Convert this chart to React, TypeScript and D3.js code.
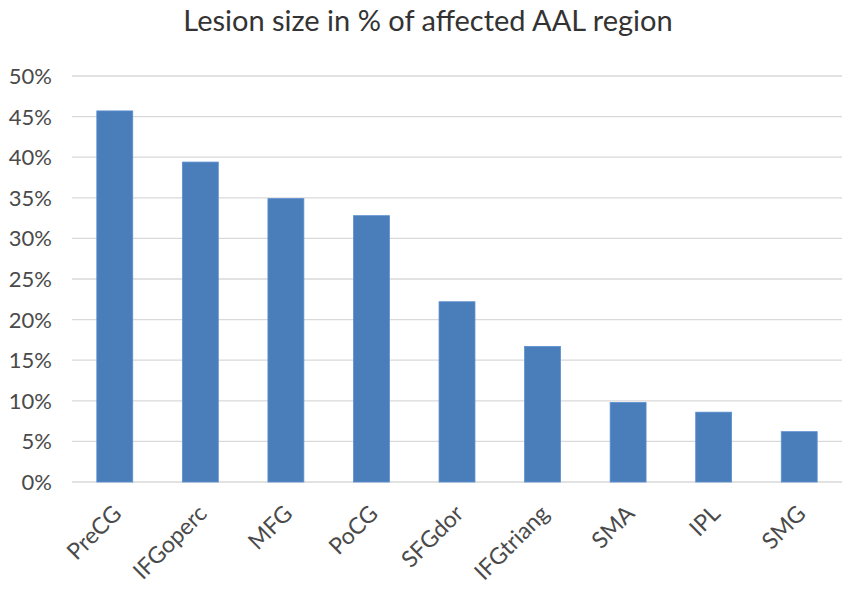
import React from "react";
import * as d3 from "d3";

const categories = ["PreCG", "IFGoperc", "MFG", "PoCG", "SFGdor", "IFGtriang", "SMA", "IPL", "SMG"];
const values = [45.7, 39.4, 34.9, 32.8, 22.2, 16.7, 9.8, 8.6, 6.2];
const yTicks = [0, 5, 10, 15, 20, 25, 30, 35, 40, 45, 50];
const title = "Lesion size in % of affected AAL region";

export default function App() {
  const W = 850, H = 593;
  const left = 72, right = 842, top = 76, bottom = 482;
  const x = d3.scaleBand<string>().domain(categories).range([left, right]).paddingInner(0.58).paddingOuter(0.29);
  const y = d3.scaleLinear().domain([0, 50]).range([bottom, top]);
  const font = "Lato, 'Open Sans', sans-serif";
  const gray = "#4a4a4a";
  return (
    <div style={{ position: "absolute", left: 0, top: 0, background: "#fff" }}>
      <svg width={W} height={H} viewBox={`0 0 ${W} ${H}`} style={{ display: "block" }}>
        <rect width={W} height={H} fill="#fff" />
        <text x={428} y={31} textAnchor="middle" fontFamily={font} fontSize={29} fill="#333">{title}</text>
        {yTicks.map((t) => (
          <g key={t}>
            <line x1={left} x2={right} y1={y(t)} y2={y(t)} stroke="#d9d9d9" strokeWidth={1.3} />
            <text x={52} y={y(t)} dy="0.36em" textAnchor="end" fontFamily={font} fontSize={22} fill={gray}>{t}%</text>
          </g>
        ))}
        {categories.map((c, i) => (
          <rect key={c} x={x(c)} y={y(values[i])} width={x.bandwidth()} height={bottom - y(values[i])} fill="#4a7ebb" stroke="#5b8fd0" strokeWidth={0.8} />
        ))}
        {categories.map((c) => {
          const cx = (x(c) as number) + x.bandwidth() / 2 + 8;
          const cy = 515;
          return (
            <text key={c} transform={`translate(${cx},${cy}) rotate(-45)`} textAnchor="end" fontFamily={font} fontSize={23} fill={gray}>{c}</text>
          );
        })}
      </svg>
    </div>
  );
}
